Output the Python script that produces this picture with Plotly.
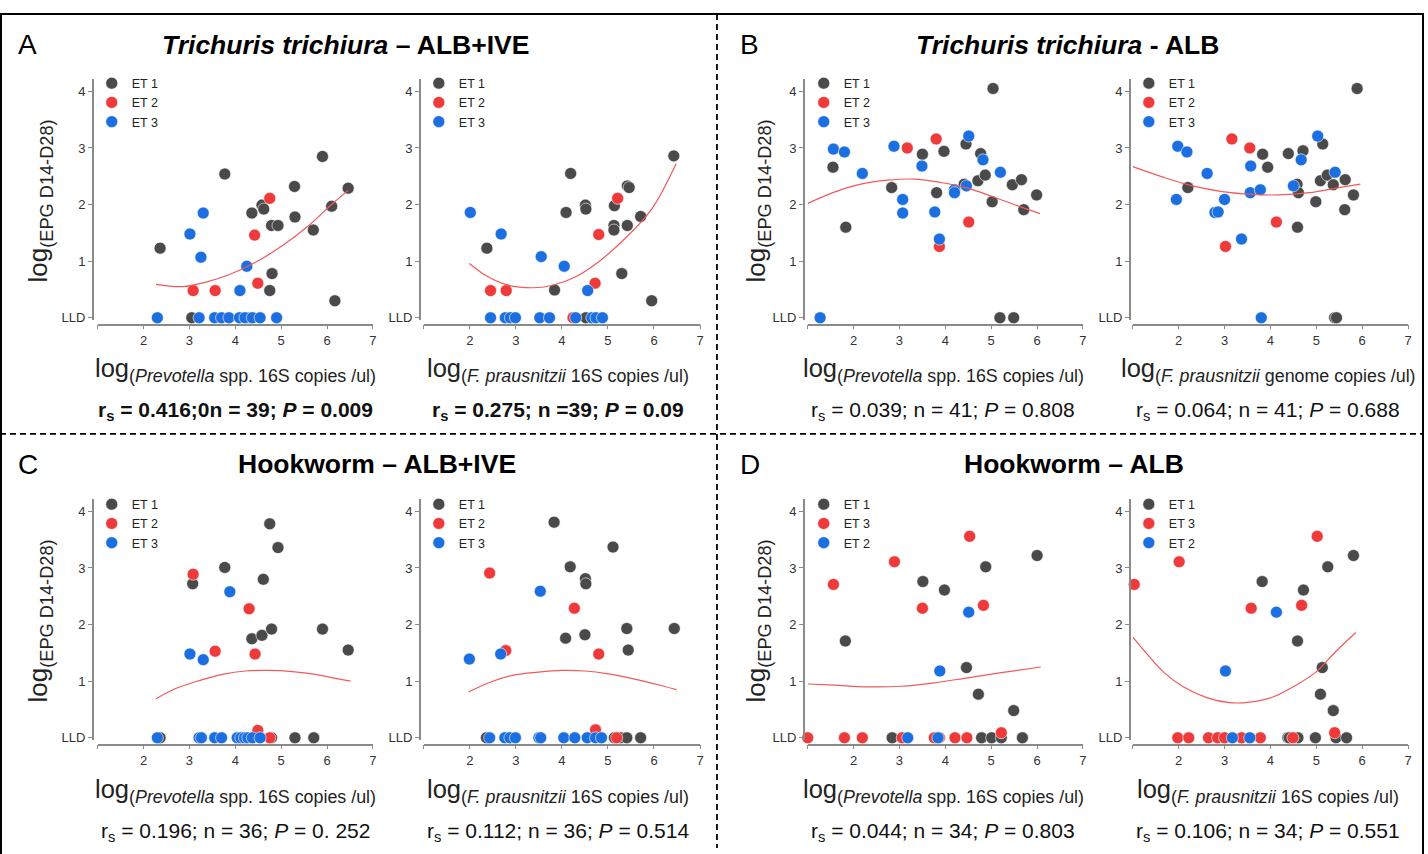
import plotly.graph_objects as go

W, H = 1428, 854

# ---------------- DATA ----------------
# Panel A (Trichuris, ALB+IVE) - Prevotella
a1_et1_x = [2.36, 3.05, 3.77, 4.36, 4.58, 4.62, 4.79, 4.93, 4.80, 4.75, 5.29, 5.30, 5.70, 5.90, 6.10, 6.46, 6.17]
a1_et1_y = [1.23, 0.00, 2.54, 1.85, 1.99, 1.92, 1.63, 1.63, 0.78, 0.48, 2.32, 1.78, 1.55, 2.85, 1.97, 2.29, 0.30]
a1_et2_x = [4.75, 4.42, 4.49, 3.08, 3.56, 4.30]
a1_et2_y = [2.11, 1.46, 0.61, 0.48, 0.48, 0.00]
a1_et3_x = [3.30, 3.01, 3.25, 4.25, 4.10, 2.30, 3.21, 3.55, 3.70, 3.86, 4.09, 4.21, 4.37, 4.54, 4.90]
a1_et3_y = [1.85, 1.48, 1.07, 0.91, 0.48, 0, 0, 0, 0, 0, 0, 0, 0, 0, 0]
a1_fit_x = [2.27, 2.85, 3.36, 3.86, 4.44, 5.02, 5.60, 6.11, 6.46]
a1_fit_y = [0.59, 0.55, 0.63, 0.76, 0.98, 1.27, 1.63, 2.01, 2.25]

# Panel A - F. prausnitzii
a2_et1_x = [2.37, 3.84, 4.19, 4.09, 4.51, 4.52, 5.14, 5.13, 5.13, 5.42, 5.42, 5.46, 5.71, 5.30, 5.95, 6.43, 4.52]
a2_et1_y = [1.23, 0.49, 2.55, 1.86, 1.99, 1.92, 1.98, 1.63, 1.55, 1.63, 2.33, 2.30, 1.79, 0.78, 0.30, 2.86, 0.00]
a2_et2_x = [5.21, 4.80, 4.72, 2.45, 2.79, 4.24]
a2_et2_y = [2.11, 1.47, 0.61, 0.48, 0.48, 0.00]
a2_et3_x = [2.01, 2.68, 3.55, 4.05, 4.56, 2.45, 2.77, 2.88, 2.99, 3.52, 3.73, 4.30, 4.65, 4.74, 4.88]
a2_et3_y = [1.86, 1.48, 1.08, 0.91, 0.48, 0, 0, 0, 0, 0, 0, 0, 0, 0, 0]
a2_fit_x = [1.99, 2.34, 2.77, 3.35, 3.78, 4.29, 4.80, 5.37, 5.95, 6.48]
a2_fit_y = [0.96, 0.75, 0.59, 0.53, 0.57, 0.72, 0.99, 1.40, 1.92, 2.72]

# Panel B (Trichuris, ALB) - Prevotella
b1_et1_x = [1.55, 1.83, 2.83, 3.50, 3.97, 3.81, 4.45, 4.41, 4.77, 4.71, 4.87, 5.04, 5.02, 5.46, 5.66, 5.71, 5.99, 5.19, 5.49]
b1_et1_y = [2.66, 1.60, 2.30, 2.89, 2.94, 2.21, 3.07, 2.36, 2.90, 2.42, 2.52, 4.05, 2.05, 2.35, 2.44, 1.91, 2.17, 0, 0]
b1_et2_x = [3.17, 3.80, 4.51, 3.87]
b1_et2_y = [3.00, 3.16, 1.69, 1.26]
b1_et3_x = [1.56, 1.80, 2.19, 2.88, 3.07, 3.07, 3.49, 3.77, 3.87, 4.20, 4.20, 4.46, 4.51, 4.82, 5.20, 1.27]
b1_et3_y = [2.98, 2.93, 2.55, 3.03, 2.09, 1.85, 2.68, 1.87, 1.39, 2.26, 2.21, 2.33, 3.21, 2.79, 2.57, 0]
b1_fit_x = [1.0, 1.58, 2.16, 2.74, 3.32, 3.90, 4.48, 5.06, 5.64, 6.06]
b1_fit_y = [2.02, 2.22, 2.36, 2.43, 2.45, 2.39, 2.29, 2.13, 1.96, 1.84]

# Panel B - F. prausnitzii
b2_et1_x = [2.20, 3.83, 3.94, 4.39, 4.71, 4.58, 4.61, 4.59, 4.99, 5.09, 5.14, 5.24, 5.37, 5.63, 5.62, 5.81, 5.89, 5.40, 5.44]
b2_et1_y = [2.30, 2.89, 2.66, 2.90, 2.95, 2.36, 2.21, 1.60, 2.05, 2.42, 3.07, 2.52, 2.35, 2.44, 1.91, 2.17, 4.05, 0, 0]
b2_et2_x = [3.16, 3.55, 3.02, 4.13]
b2_et2_y = [3.16, 3.00, 1.26, 1.69]
b2_et3_x = [1.98, 2.18, 1.95, 2.62, 2.79, 2.86, 3.00, 3.37, 3.57, 3.56, 3.78, 4.50, 4.67, 5.03, 5.41, 3.80]
b2_et3_y = [3.03, 2.93, 2.09, 2.55, 1.86, 1.87, 2.09, 1.39, 2.68, 2.21, 2.26, 2.33, 2.79, 3.21, 2.57, 0]
b2_fit_x = [1.0, 1.64, 2.30, 2.95, 3.61, 4.19, 4.85, 5.43, 5.96]
b2_fit_y = [2.67, 2.49, 2.33, 2.23, 2.18, 2.17, 2.21, 2.29, 2.36]

# Panel C (Hookworm, ALB+IVE) - Prevotella
c1_et1_x = [2.36, 3.07, 3.77, 4.75, 4.93, 4.61, 4.36, 4.58, 4.79, 5.90, 6.46, 4.79, 5.30, 5.71]
c1_et1_y = [0, 2.72, 3.01, 3.78, 3.36, 2.80, 1.75, 1.81, 1.92, 1.92, 1.55, 0, 0, 0]
c1_et2_x = [3.08, 4.30, 3.56, 4.43, 4.49, 4.75]
c1_et2_y = [2.89, 2.28, 1.53, 1.48, 0.13, 0]
c1_et3_x = [3.88, 3.01, 3.30, 2.30, 3.21, 3.26, 3.55, 3.70, 4.04, 4.12, 4.20, 4.27, 4.37, 4.54]
c1_et3_y = [2.58, 1.48, 1.38, 0, 0, 0, 0, 0, 0, 0, 0, 0, 0, 0]
c1_fit_x = [2.27, 2.70, 3.21, 3.72, 4.22, 4.73, 5.24, 5.75, 6.18, 6.51]
c1_fit_y = [0.69, 0.87, 1.01, 1.12, 1.18, 1.19, 1.17, 1.12, 1.05, 1.00]

# Panel C - F. prausnitzii
c2_et1_x = [3.83, 4.18, 4.51, 4.52, 5.11, 4.08, 4.50, 5.41, 5.44, 6.44, 2.36, 5.14, 5.28, 5.41, 5.71]
c2_et1_y = [3.81, 3.02, 2.81, 2.72, 3.37, 1.76, 1.82, 1.93, 1.55, 1.93, 0, 0, 0, 0, 0]
c2_et2_x = [2.43, 4.27, 2.78, 4.80, 4.73, 5.19]
c2_et2_y = [2.91, 2.29, 1.54, 1.48, 0.14, 0]
c2_et3_x = [3.53, 1.99, 2.67, 2.43, 2.76, 2.87, 2.99, 3.50, 3.54, 4.04, 4.28, 4.55, 4.73, 4.86]
c2_et3_y = [2.59, 1.39, 1.48, 0, 0, 0, 0, 0, 0, 0, 0, 0, 0, 0]
c2_fit_x = [1.97, 2.47, 2.97, 3.48, 3.99, 4.50, 5.01, 5.51, 6.02, 6.49]
c2_fit_y = [0.81, 0.99, 1.11, 1.16, 1.19, 1.18, 1.13, 1.05, 0.95, 0.85]

# Panel D (Hookworm, ALB) - Prevotella  (legend order ET 1, ET 3, ET 2)
d1_et1_x = [1.82, 3.51, 3.98, 4.88, 6.00, 4.46, 4.72, 5.49, 2.84, 4.79, 5.01, 5.22, 5.68]
d1_et1_y = [1.71, 2.76, 2.61, 3.02, 3.22, 1.24, 0.77, 0.48, 0, 0, 0, 0, 0]
d1_et3_x = [4.53, 2.89, 1.56, 3.50, 4.83, 5.22, 1.00, 1.80, 2.19, 3.06, 3.76, 3.87, 4.21, 4.47]
d1_et3_y = [3.56, 3.11, 2.71, 2.29, 2.34, 0.09, 0, 0, 0, 0, 0, 0, 0, 0]
d1_et2_x = [4.51, 3.88, 3.18, 3.84]
d1_et2_y = [2.22, 1.18, 0, 0]
d1_fit_x = [1.0, 1.58, 2.31, 3.04, 3.76, 4.49, 5.22, 6.08]
d1_fit_y = [0.95, 0.93, 0.90, 0.91, 0.97, 1.06, 1.15, 1.25]

# Panel D - F. prausnitzii
d2_et1_x = [3.82, 4.72, 5.25, 5.81, 4.59, 5.13, 5.09, 5.37, 4.38, 4.41, 4.60, 4.98, 5.43, 5.66]
d2_et1_y = [2.76, 2.61, 3.02, 3.22, 1.71, 1.24, 0.77, 0.48, 0, 0, 0, 0, 0, 0]
d2_et3_x = [1.03, 2.01, 3.58, 4.68, 5.02, 5.40, 1.98, 2.22, 2.65, 2.85, 3.00, 3.37, 3.78, 4.49]
d2_et3_y = [2.71, 3.11, 2.29, 2.34, 3.56, 0.09, 0, 0, 0, 0, 0, 0, 0, 0]
d2_et2_x = [3.02, 4.13, 3.17, 3.55]
d2_et2_y = [1.18, 2.22, 0, 0]
d2_fit_x = [1.0, 1.30, 1.67, 2.10, 2.61, 3.11, 3.55, 4.05, 4.56, 4.99, 5.42, 5.86]
d2_fit_y = [1.78, 1.49, 1.16, 0.90, 0.71, 0.62, 0.63, 0.72, 0.93, 1.16, 1.52, 1.86]

x_tickvals = [1, 2, 3, 4, 5, 6, 7]
x_ticktext = ["", "2", "3", "4", "5", "6", "7"]
y_tickvals = [0, 1, 2, 3, 4]
y_ticktext = ["LLD", "1", "2", "3", "4"]

panel_letters = ["A", "B", "C", "D"]
panel_titles = [
    "<b><i>Trichuris trichiura</i> – ALB+IVE</b>",
    "<b><i>Trichuris trichiura</i> - ALB</b>",
    "<b>Hookworm – ALB+IVE</b>",
    "<b>Hookworm – ALB</b>",
]
x_titles = [
    "log<sub>(<i>Prevotella</i> spp. 16S copies /ul)</sub>",
    "log<sub>(<i>F. prausnitzii</i> 16S copies /ul)</sub>",
    "log<sub>(<i>Prevotella</i> spp. 16S copies /ul)</sub>",
    "log<sub>(<i>F. prausnitzii</i> genome copies /ul)</sub>",
    "log<sub>(<i>Prevotella</i> spp. 16S copies /ul)</sub>",
    "log<sub>(<i>F. prausnitzii</i> 16S copies /ul)</sub>",
    "log<sub>(<i>Prevotella</i> spp. 16S copies /ul)</sub>",
    "log<sub>(<i>F. prausnitzii</i> 16S copies /ul)</sub>",
]
stat_texts = [
    "<b>r<sub>s</sub> = 0.416;0n = 39; <i>P</i> = 0.009</b>",
    "<b>r<sub>s</sub> = 0.275; n =39; <i>P</i> = 0.09</b>",
    "r<sub>s</sub> = 0.039; n = 41; <i>P</i> = 0.808",
    "r<sub>s</sub> = 0.064; n = 41; <i>P</i> = 0.688",
    "r<sub>s</sub> = 0.196; n = 36; <i>P</i> = 0. 252",
    "r<sub>s</sub> = 0.112; n = 36; <i>P</i> = 0.514",
    "r<sub>s</sub> = 0.044; n = 34; <i>P</i> = 0.803",
    "r<sub>s</sub> = 0.106; n = 34; <i>P</i> = 0.551",
]
y_title = "log<sub>(EPG D14-D28)</sub>"

GRAY, RED, BLUE = "#4a4a4a", "#ee3a3a", "#1c6fe0"
FIT = "#f25a5a"
FONT = "Liberation Sans, Arial, sans-serif"

panels = [
    [("ET 1", a1_et1_x, a1_et1_y, GRAY), ("ET 2", a1_et2_x, a1_et2_y, RED), ("ET 3", a1_et3_x, a1_et3_y, BLUE), (a1_fit_x, a1_fit_y)],
    [("ET 1", a2_et1_x, a2_et1_y, GRAY), ("ET 2", a2_et2_x, a2_et2_y, RED), ("ET 3", a2_et3_x, a2_et3_y, BLUE), (a2_fit_x, a2_fit_y)],
    [("ET 1", b1_et1_x, b1_et1_y, GRAY), ("ET 2", b1_et2_x, b1_et2_y, RED), ("ET 3", b1_et3_x, b1_et3_y, BLUE), (b1_fit_x, b1_fit_y)],
    [("ET 1", b2_et1_x, b2_et1_y, GRAY), ("ET 2", b2_et2_x, b2_et2_y, RED), ("ET 3", b2_et3_x, b2_et3_y, BLUE), (b2_fit_x, b2_fit_y)],
    [("ET 1", c1_et1_x, c1_et1_y, GRAY), ("ET 2", c1_et2_x, c1_et2_y, RED), ("ET 3", c1_et3_x, c1_et3_y, BLUE), (c1_fit_x, c1_fit_y)],
    [("ET 1", c2_et1_x, c2_et1_y, GRAY), ("ET 2", c2_et2_x, c2_et2_y, RED), ("ET 3", c2_et3_x, c2_et3_y, BLUE), (c2_fit_x, c2_fit_y)],
    [("ET 1", d1_et1_x, d1_et1_y, GRAY), ("ET 3", d1_et3_x, d1_et3_y, RED), ("ET 2", d1_et2_x, d1_et2_y, BLUE), (d1_fit_x, d1_fit_y)],
    [("ET 1", d2_et1_x, d2_et1_y, GRAY), ("ET 3", d2_et3_x, d2_et3_y, RED), ("ET 2", d2_et2_x, d2_et2_y, BLUE), (d2_fit_x, d2_fit_y)],
]

# ---------------- LAYOUT GEOMETRY (pixels) ----------------
x_dom_px = [(98, 374), (425, 702), (810, 1086), (1136, 1412)]
yaxis_px = [93, 421, 806, 1133]
row_y0 = [320, 743]          # pixel of y=0 (LLD)
unit_y = 57.0
y_range = [-0.035, 4.21]
xaxis_line_px = [327, 750]
legend_x_px = [92, 420, 806, 1132]
legend_top_px = [69, 493]
xtitle_cx = [236, 560, 946, 1272]
xtitle_y = [373, 797]
stat_y = [414, 838]


def px(x):
    return x / W


def py(y):
    return 1 - y / H


fig = go.Figure()
layout = dict(
    width=W, height=H, margin=dict(l=0, r=0, t=0, b=0),
    paper_bgcolor="white", plot_bgcolor="white",
    font=dict(family=FONT, color="#222"),
    annotations=[], shapes=[],
)

for i, panel in enumerate(panels):
    row, col = i // 4, i % 4
    n = i + 1
    xa = "x" if n == 1 else f"x{n}"
    ya = "y" if n == 1 else f"y{n}"
    lg = "legend" if n == 1 else f"legend{n}"
    for name, xs, ys, color in panel[:3]:
        fig.add_trace(go.Scatter(
            x=xs, y=ys, mode="markers", name=name, xaxis=xa, yaxis=ya, legend=lg,
            cliponaxis=False,
            marker=dict(size=12, color=color, line=dict(width=0.6, color="white")),
        ))
    fx, fy = panel[3]
    fig.add_trace(go.Scatter(
        x=fx, y=fy, mode="lines", line=dict(color=FIT, width=1.2, shape="spline"),
        xaxis=xa, yaxis=ya, showlegend=False, hoverinfo="skip",
    ))

    y0 = row_y0[row]
    dom_top = y0 - (y_range[1]) * unit_y
    dom_bot = y0 - (y_range[0]) * unit_y
    xkey = "xaxis" if n == 1 else f"xaxis{n}"
    ykey = "yaxis" if n == 1 else f"yaxis{n}"
    layout[xkey] = dict(
        domain=[px(x_dom_px[col][0]), px(x_dom_px[col][1])], range=[1, 7],
        anchor="free", position=py(xaxis_line_px[row]),
        showline=True, linecolor="#8a8a8a", linewidth=1.5,
        ticks="outside", ticklen=4, tickcolor="#8a8a8a", tickwidth=1.2,
        tickvals=x_tickvals, ticktext=x_ticktext,
        tickfont=dict(size=13, color="#333"), showgrid=False, zeroline=False,
    )
    layout[ykey] = dict(
        domain=[py(dom_bot), py(dom_top)], range=y_range,
        anchor="free", position=px(yaxis_px[col]),
        showline=True, linecolor="#8a8a8a", linewidth=1.5,
        ticks="outside", ticklen=4, tickcolor="#8a8a8a", tickwidth=1.2,
        tickvals=y_tickvals, ticktext=y_ticktext,
        tickfont=dict(size=13, color="#333"), showgrid=False, zeroline=False,
    )
    layout[lg] = dict(
        x=px(legend_x_px[col]), y=py(legend_top_px[row]), xanchor="left", yanchor="top",
        bgcolor="rgba(0,0,0,0)", font=dict(size=12.5, color="#222"),
        itemclick=False, itemdoubleclick=False,
    )
    layout["annotations"].append(dict(
        text=x_titles[i], x=px(xtitle_cx[col]), y=py(xtitle_y[row]), xref="paper", yref="paper",
        showarrow=False, xanchor="center", yanchor="middle", font=dict(size=25.5, color="#222"),
    ))
    layout["annotations"].append(dict(
        text=stat_texts[i], x=px(xtitle_cx[col]), y=py(stat_y[row]), xref="paper", yref="paper",
        showarrow=False, xanchor="center", yanchor="middle", font=dict(size=21, color="#111"),
    ))

# panel letters, titles, y titles
letter_pos = [(28, 45), (752, 45), (28, 468), (752, 468)]
title_pos = [(346, 45), (1070, 45), (378, 467), (1077, 467)]
ytitle_pos = [(40, 202), (760, 202), (40, 625), (760, 625)]
for k in range(4):
    lx, ly = letter_pos[k]
    layout["annotations"].append(dict(
        text=panel_letters[k], x=px(lx), y=py(ly), xref="paper", yref="paper", showarrow=False,
        xanchor="center", yanchor="middle", font=dict(size=28, color="#000"),
    ))
    tx, ty = title_pos[k]
    layout["annotations"].append(dict(
        text=panel_titles[k], x=px(tx), y=py(ty), xref="paper", yref="paper", showarrow=False,
        xanchor="center", yanchor="middle", font=dict(size=26.5, color="#000"),
    ))
    yx, yy = ytitle_pos[k]
    layout["annotations"].append(dict(
        text=y_title, x=px(yx), y=py(yy), xref="paper", yref="paper", showarrow=False,
        textangle=-90, xanchor="center", yanchor="middle", font=dict(size=26, color="#222"),
    ))

# frame and dashed separators
layout["shapes"] = [
    dict(type="rect", xref="paper", yref="paper", x0=px(1), x1=px(1427), y0=py(862), y1=py(14),
         line=dict(color="black", width=2)),
    dict(type="line", xref="paper", yref="paper", x0=px(719), x1=px(719), y0=py(14), y1=py(854),
         line=dict(color="black", width=1.8, dash="6px,4px")),
    dict(type="line", xref="paper", yref="paper", x0=px(0), x1=px(1428), y0=py(437), y1=py(437),
         line=dict(color="black", width=1.8, dash="6px,4px")),
]

fig.update_layout(**layout)
fig.write_html(
    "out.html",
    config={"displayModeBar": False},
    post_script="document.body.style.margin='0';document.body.style.overflow='hidden';",
)
